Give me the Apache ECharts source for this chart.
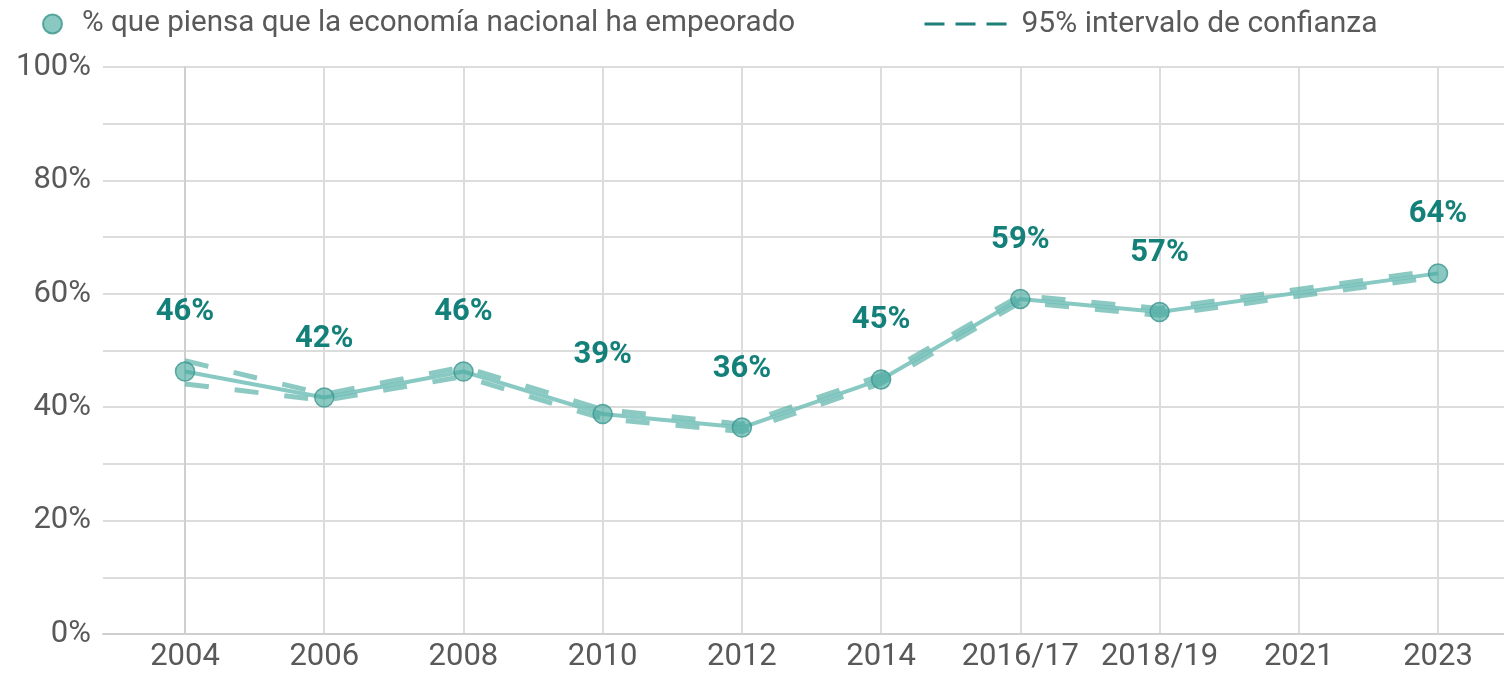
<!DOCTYPE html>
<html>
<head>
<meta charset="utf-8">
<script src="https://cdn.jsdelivr.net/npm/echarts@6/dist/echarts.min.js"></script>
<style>
html,body{margin:0;padding:0;background:#fff;}
#chart{width:1504px;height:674px;}
</style>
</head>
<body>
<div id="chart"></div>
<script>
const categories = ['2004','2006','2008','2010','2012','2014','2016/17','2018/19','2021','2023'];
const pctWorse = [46.3, 41.7, 46.3, 38.8, 36.4, 44.9, 59.1, 56.8, null, 63.6];
const ciUpper = [48.2, 42.3, 47.1, 39.6, 37.0, 45.6, 59.7, 57.4, null, 64.2];
const ciLower = [44.1, 41.2, 45.4, 38.0, 35.7, 44.2, 58.5, 56.2, null, 63.0];
const yTicks = [0, 20, 40, 60, 80, 100];

const mainName = '% que piensa que la economía nacional ha empeorado';
const ciName = '95% intervalo de confianza';
const FONT = 'Roboto';

function toXY(arr) {
  return arr.map((v, i) => [i, v]);
}

const chart = echarts.init(document.getElementById('chart'), null, {renderer: 'canvas'});

const ciStyle = {
  color: 'rgba(95,180,172,0.72)',
  width: 5,
  type: [24, 26]
};

const option = {
  animation: false,
  textStyle: {fontFamily: FONT},
  legend: [
    {
      left: 37, top: 4,
      itemWidth: 19, itemHeight: 19,
      icon: 'circle',
      data: [mainName],
      textStyle: {fontFamily: FONT, fontSize: 29.6, color: '#595959', padding: [0, 0, 0, 15]},
      selectedMode: false
    },
    {
      left: 918, top: 4,
      itemWidth: 82, itemHeight: 19,
      data: [{name: ciName, itemStyle: {opacity: 0}, lineStyle: {color: '#1f7f78', width: 3, type: [20, 11], opacity: 1}}],
      textStyle: {fontFamily: FONT, fontSize: 30, color: '#595959', padding: [0, 0, 0, 10]},
      selectedMode: false
    }
  ],
  grid: {left: 103, right: 0, top: 67, bottom: 40},
  xAxis: {
    type: 'value',
    min: -0.589,
    max: 9.474,
    axisLine: {show: true, onZero: false, lineStyle: {color: '#cfcfcf', width: 2}},
    axisTick: {show: false, customValues: categories.map((c, i) => i)},
    axisLabel: {
      customValues: categories.map((c, i) => i),
      formatter: v => categories[Math.round(v)] || '',
      fontFamily: FONT, fontSize: 31, color: '#595959', margin: 8
    },
    splitLine: {show: true, lineStyle: {color: '#dcdcdc', width: 2}}
  },
  yAxis: {
    type: 'value',
    min: 0, max: 100, interval: 10,
    axisLine: {show: true, lineStyle: {color: '#cfcfcf', width: 2}},
    axisTick: {show: false},
    axisLabel: {
      formatter: v => (yTicks.indexOf(v) >= 0 ? v + '%' : ''),
      fontFamily: FONT, fontSize: 31, color: '#595959', margin: 12
    },
    splitLine: {show: true, lineStyle: {color: '#dcdcdc', width: 2}}
  },
  series: [
    {
      name: ciName, type: 'line', data: toXY(ciUpper), connectNulls: true,
      symbol: 'none', lineStyle: ciStyle, itemStyle: {color: '#1f7f78'}, z: 2, silent: true
    },
    {
      name: ciName, type: 'line', data: toXY(ciLower), connectNulls: true,
      symbol: 'none', lineStyle: ciStyle, itemStyle: {color: '#1f7f78'}, z: 2, silent: true
    },
    {
      name: mainName, type: 'line', data: toXY(pctWorse), connectNulls: true,
      symbol: 'circle', symbolSize: 19,
      lineStyle: {color: 'rgba(115,192,185,0.85)', width: 4},
      itemStyle: {color: 'rgba(75,170,162,0.65)', borderColor: 'rgba(60,150,142,0.8)', borderWidth: 1.5},
      label: {
        show: true, position: 'top', distance: 33,
        formatter: p => Math.round(p.value[1]) + '%',
        fontFamily: FONT, fontWeight: 'bold', fontSize: 31, color: '#14807a'
      },
      z: 3
    }
  ]
};
chart.setOption(option);
</script>
</body>
</html>
